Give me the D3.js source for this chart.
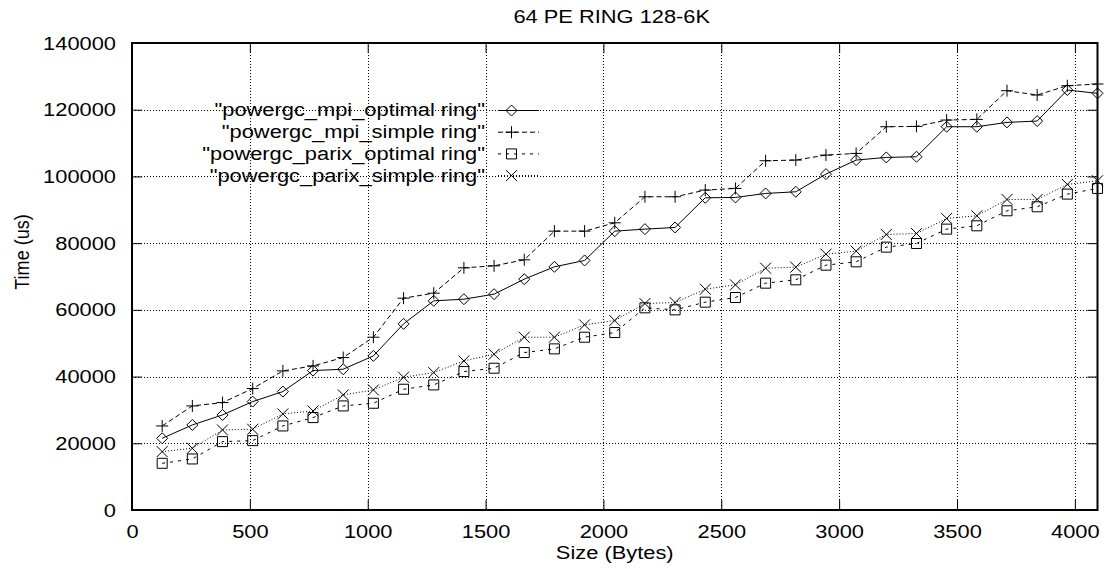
<!DOCTYPE html>
<html>
<head>
<meta charset="utf-8">
<script src="https://cdn.jsdelivr.net/npm/d3@7"></script>
<style>
  html, body { margin: 0; padding: 0; background: #fff; }
  svg { display: block; }
  text { font-family: "Liberation Sans", Arial, Helvetica, sans-serif; fill: #000; }
</style>
</head>
<body>
<svg id="chart" width="1105" height="569"></svg>
<script>
// Message sizes in bytes
const sizes = [128, 256, 384, 512, 640, 768, 896, 1024, 1152, 1280, 1408, 1536, 1664, 1792, 1920, 2048,
               2176, 2304, 2432, 2560, 2688, 2816, 2944, 3072, 3200, 3328, 3456, 3584, 3712, 3840, 3968, 4096];

// Ring times in microseconds
const mpiOptimal = [21500, 25500, 28500, 32500, 35500, 41800, 42200, 46200, 55800, 62700, 63200, 64700, 69200, 72900, 74800, 83600,
                    84200, 84700, 93600, 93700, 94900, 95400, 100700, 104900, 105700, 105900, 114900, 114900, 116200, 116600, 125900, 124900];
const mpiSimple = [25200, 31200, 32200, 36400, 41700, 43200, 45700, 51800, 63500, 65000, 72600, 73200, 75000, 83600, 83600, 86100,
                   93900, 93900, 95900, 96400, 104700, 104900, 106400, 106900, 114900, 115000, 116900, 117100, 125700, 124400, 127200, 127700];
const parixOptimal = [14000, 15300, 20500, 20800, 25200, 27700, 31200, 32000, 36200, 37500, 41500, 42500, 47200, 48300, 51800, 53200,
                      60600, 60000, 62300, 63700, 68000, 69000, 73400, 74400, 78800, 79900, 84200, 85200, 89700, 90900, 94700, 96400];
const parixSimple = [17500, 18500, 24000, 24200, 28800, 29700, 34500, 36000, 39800, 41200, 44700, 46700, 51800, 51800, 55500, 56800,
                     61900, 62200, 66200, 67500, 72500, 72800, 76700, 77600, 82600, 82900, 87400, 88200, 93100, 93100, 97600, 98700];

const seriesNames = ['"powergc_mpi_optimal ring"', '"powergc_mpi_simple ring"',
                     '"powergc_parix_optimal ring"', '"powergc_parix_simple ring"'];

const xTicks = [0, 500, 1000, 1500, 2000, 2500, 3000, 3500, 4000];
const yTicks = [0, 20000, 40000, 60000, 80000, 100000, 120000, 140000];
const xDomain = [0, 4096];
const yDomain = [0, 140000];

const titleText = "64 PE RING 128-6K";
const xLabel = "Size (Bytes)";
const yLabel = "Time (us)";

// ---- layout ----
const W = 1105, H = 569;
const plot = { left: 132, right: 1097.5, top: 43, bottom: 510 };
const FONT = 19;
const SX = 1.15;     // horizontal stretch of the lettering
const TICK = 10;
const fmt = d3.format("d");

const svg = d3.select("#chart");
const x = d3.scaleLinear().domain(xDomain).range([plot.left, plot.right]);
const y = d3.scaleLinear().domain(yDomain).range([plot.bottom, plot.top]);

// widen a text element horizontally around its own anchor point
function stretch(sel, s) {
  sel.each(function () {
    const t = d3.select(this);
    const ax = +t.attr("x") || 0;
    t.attr("transform", `translate(${ax},0) scale(${s},1) translate(${-ax},0)`);
  });
}

// ---- grid ----
const grid = svg.append("g")
  .attr("stroke", "#000").attr("stroke-width", 1).attr("stroke-dasharray", "1,2").attr("fill", "none");
grid.selectAll("line.vx").data(xTicks.filter(v => v > xDomain[0] && v < xDomain[1]))
  .join("line").attr("class", "vx")
  .attr("x1", d => Math.round(x(d)) + 0.5).attr("x2", d => Math.round(x(d)) + 0.5)
  .attr("y1", plot.top).attr("y2", plot.bottom);
grid.selectAll("line.hy").data(yTicks.filter(v => v > yDomain[0] && v < yDomain[1]))
  .join("line").attr("class", "hy")
  .attr("y1", d => Math.round(y(d)) + 0.5).attr("y2", d => Math.round(y(d)) + 0.5)
  .attr("x1", plot.left).attr("x2", plot.right);

// ---- axes (ticks pointing inward, mirrored on all four sides) ----
function styleAxis(g) {
  g.select(".domain").remove();
  g.selectAll(".tick line").attr("stroke", "#000").attr("stroke-width", 1);
  g.selectAll(".tick text").attr("font-size", FONT).attr("fill", "#000").attr("font-family", null);
}

const gLeft = svg.append("g").attr("transform", `translate(${plot.left},0)`)
  .call(d3.axisLeft(y).tickValues(yTicks).tickFormat(fmt).tickSizeInner(-TICK).tickSizeOuter(0).tickPadding(16))
  .call(styleAxis);
gLeft.selectAll(".tick text").call(stretch, SX);

const gBottom = svg.append("g").attr("transform", `translate(0,${plot.bottom})`)
  .call(d3.axisBottom(x).tickValues(xTicks).tickFormat(fmt).tickSizeInner(-TICK).tickSizeOuter(0).tickPadding(15))
  .call(styleAxis);
gBottom.selectAll(".tick text").call(stretch, SX);

svg.append("g").attr("transform", `translate(${plot.right},0)`)
  .call(d3.axisRight(y).tickValues(yTicks).tickSizeInner(-TICK).tickSizeOuter(0).tickFormat(""))
  .call(styleAxis);
svg.append("g").attr("transform", `translate(0,${plot.top})`)
  .call(d3.axisTop(x).tickValues(xTicks).tickSizeInner(-TICK).tickSizeOuter(0).tickFormat(""))
  .call(styleAxis);

// frame
svg.append("rect")
  .attr("x", plot.left).attr("y", plot.top)
  .attr("width", plot.right - plot.left).attr("height", plot.bottom - plot.top)
  .attr("fill", "none").attr("stroke", "#000").attr("stroke-width", 2);

// ---- point symbols ----
const symbols = {
  diamond: (g, s) => g.append("path").attr("d", `M0,${-s}L${s},0L0,${s}L${-s},0Z`),
  plus: (g, s) => g.append("path").attr("d", `M${-s},0H${s}M0,${-s}V${s}`),
  square: (g, s) => g.append("path").attr("d", `M${-s + 0.5},${-s + 0.5}H${s - 0.5}V${s - 0.5}H${-s + 0.5}Z`),
  cross: (g, s) => g.append("path").attr("d", `M${-s},${-s}L${s},${s}M${-s},${s}L${s},${-s}`)
};

const series = [
  { name: seriesNames[0], values: mpiOptimal,   dash: null,  sym: "diamond", size: 5.5 },
  { name: seriesNames[1], values: mpiSimple,    dash: "5,3", sym: "plus",    size: 6 },
  { name: seriesNames[2], values: parixOptimal, dash: "3,5", sym: "square",  size: 5.5 },
  { name: seriesNames[3], values: parixSimple,  dash: "1,2", sym: "cross",   size: 5.5 }
];

const line = d3.line().x(d => x(d[0])).y(d => y(d[1]));

series.forEach(s => {
  const pts = sizes.map((sz, i) => [sz, s.values[i]]);
  svg.append("path")
    .datum(pts)
    .attr("d", line)
    .attr("fill", "none").attr("stroke", "#000").attr("stroke-width", 1)
    .attr("stroke-dasharray", s.dash);
  const gp = svg.append("g").attr("fill", "none").attr("stroke", "#000").attr("stroke-width", 1);
  pts.forEach(p => {
    const m = gp.append("g").attr("transform", `translate(${x(p[0])},${y(p[1])})`);
    symbols[s.sym](m, s.size);
  });
});

// ---- key ----
const key = { textRight: 485, lineX1: 498, lineX2: 539, markX: 511.5, rows: [110, 131.7, 153.4, 175.1] };
series.forEach((s, i) => {
  const ry = key.rows[i];
  const t = svg.append("text")
    .attr("x", key.textRight).attr("y", ry + 6.5)
    .attr("text-anchor", "end").attr("font-size", FONT)
    .text(s.name);
  stretch(t, SX);
  svg.append("line")
    .attr("x1", key.lineX1).attr("x2", key.lineX2).attr("y1", ry + 0.5).attr("y2", ry + 0.5)
    .attr("stroke", "#000").attr("stroke-width", 1).attr("stroke-dasharray", s.dash);
  const m = svg.append("g").attr("transform", `translate(${key.markX},${ry + 0.5})`)
    .attr("fill", "none").attr("stroke", "#000").attr("stroke-width", 1);
  symbols[s.sym](m, s.size);
});

// ---- title and axis labels ----
const tt = svg.append("text")
  .attr("x", (plot.left + plot.right) / 2 - 3).attr("y", 23)
  .attr("text-anchor", "middle").attr("font-size", FONT)
  .text(titleText);
stretch(tt, SX);

const xl = svg.append("text")
  .attr("x", (plot.left + plot.right) / 2).attr("y", 559)
  .attr("text-anchor", "middle").attr("font-size", FONT)
  .text(xLabel);
stretch(xl, SX);

svg.append("text")
  .attr("transform", `translate(29,252) scale(${SX},1) rotate(-90)`)
  .attr("text-anchor", "middle").attr("font-size", FONT * 0.95)
  .text(yLabel);
</script>
</body>
</html>
